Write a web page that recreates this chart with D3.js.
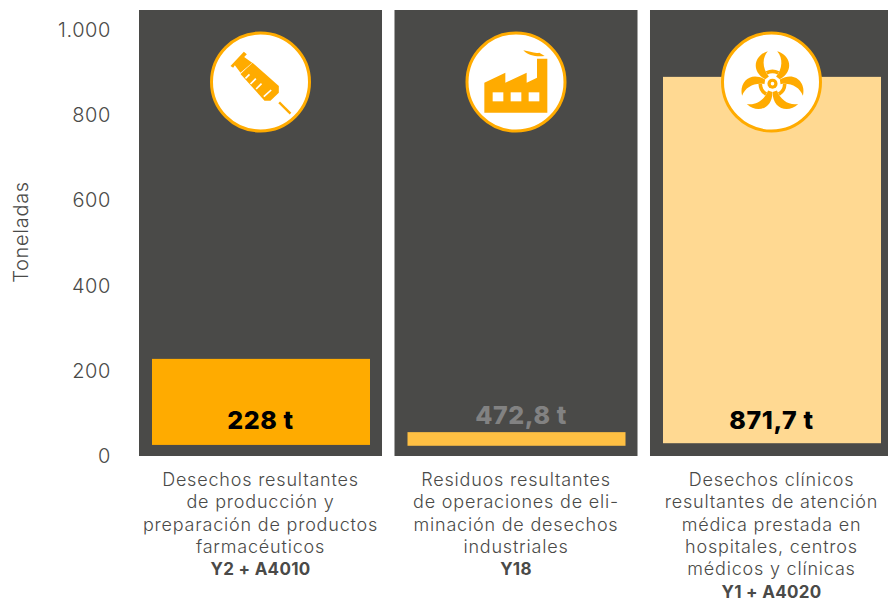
<!DOCTYPE html>
<html>
<head>
<meta charset="utf-8">
<script src="https://cdnjs.cloudflare.com/ajax/libs/d3/7.8.5/d3.min.js"></script>
<style>
body { margin: 0; background: #fff; }
svg text { font-family: "Inter", "Open Sans", sans-serif; }
</style>
</head>
<body>
<svg id="chart" width="888" height="601"></svg>
<script>
var categories = ["a", "b", "c"];
// bars do not start at zero in the picture, they float a bit above the panel bottom
var barValues = [228, 56, 890];
var barFloors = [26, 24, 30];
var barLabels = ["228 t", "472,8 t", "871,7 t"];
var barColors = ["#ffab00", "#ffc043", "#ffd992"];
var labelColors = ["#000000", "#828282", "#000000"];
var tickValues = [0, 200, 400, 600, 800, 1000];
var tickLabels = ["0", "200", "400", "600", "800", "1.000"];
var descriptions = [
    ["Desechos resultantes", "de producción y", "preparación de productos", "farmacéuticos"],
    ["Residuos resultantes", "de operaciones de eli-", "minación de desechos", "industriales"],
    ["Desechos clínicos", "resultantes de atención", "médica prestada en", "hospitales, centros", "médicos y clínicas"]
];
var codes = ["Y2 + A4010", "Y18", "Y1 + A4020"];

var svg = d3.select("#chart");
var y = d3.scaleLinear().domain([0, 1000]).range([456, 30]);
var x = d3.scaleBand().domain(categories).range([139, 893]).paddingInner(0.0489).paddingOuter(0);
var orange = "#ffab00";
var gray = "#4a4a48";

svg.selectAll(".panel").data(categories).enter().append("rect")
    .attr("x", d => x(d)).attr("y", 10)
    .attr("width", x.bandwidth()).attr("height", y(0) - 10)
    .attr("fill", gray);

svg.selectAll(".bar").data(categories).enter().append("rect")
    .attr("x", d => x(d) + 13)
    .attr("y", (d, i) => y(barValues[i]))
    .attr("width", x.bandwidth() - 25)
    .attr("height", (d, i) => y(barFloors[i]) - y(barValues[i]))
    .attr("fill", (d, i) => barColors[i]);

// the middle label sits above its thin bar and a little off centre
svg.selectAll(".val").data(categories).enter().append("text")
    .attr("x", (d, i) => x(d) + x.bandwidth() / 2 + (i == 1 ? 5 : 0))
    .attr("y", (d, i) => i == 1 ? 424 : 429)
    .attr("text-anchor", "middle").attr("font-size", 25).attr("font-weight", 800)
    .attr("letter-spacing", 0.6)
    .attr("fill", (d, i) => labelColors[i])
    .text((d, i) => barLabels[i]);

svg.selectAll(".tick").data(tickValues).enter().append("text")
    .attr("x", 111).attr("y", d => y(d) + 7)
    .attr("text-anchor", "end").attr("font-size", 20).attr("font-weight", 300)
    .attr("letter-spacing", 0.6).attr("fill", gray)
    .text((d, i) => tickLabels[i]);

svg.append("text").attr("transform", "translate(28,232) rotate(-90)")
    .attr("text-anchor", "middle").attr("font-size", 20).attr("font-weight", 300)
    .attr("letter-spacing", 0.7).attr("fill", gray).text("Toneladas");

categories.forEach(function(c, i) {
    var cx = x(c) + x.bandwidth() / 2;
    descriptions[i].forEach(function(line, j) {
        svg.append("text").attr("x", cx).attr("y", 486 + j * 22.3)
            .attr("text-anchor", "middle").attr("font-size", 18).attr("font-weight", 300)
            .attr("letter-spacing", 0.8).attr("fill", gray).text(line);
    });
    svg.append("text").attr("x", cx).attr("y", 486 + descriptions[i].length * 22.3)
        .attr("text-anchor", "middle").attr("font-size", 17).attr("font-weight", 700)
        .attr("letter-spacing", 0.3).attr("fill", gray).text(codes[i]);
    svg.append("circle").attr("cx", cx).attr("cy", 82).attr("r", 49)
        .attr("fill", "#fff").attr("stroke", orange).attr("stroke-width", 3);
});

// icons, drawn at 3x and scaled down
function icon(i) {
    return svg.append("g")
        .attr("transform", "translate(" + (x(categories[i]) + x.bandwidth() / 2) + ",82) scale(0.3333)");
}

var syringe = icon(0);
syringe.append("path").attr("fill", orange)
    .attr("d", "M-90,-48 L-50,-91 L-41,-83 L-49,-75 L-25,-58 L-60,-28 L-77,-50 L-82,-43 Z");
syringe.append("path").attr("fill", orange)
    .attr("d", "M-60,-24 L-24,-58 L55,12 L55,32 L30,56 L12,56 Z");
[[-45, -11, -33, -23], [-30, 6, -14, -10], [-13, 21, 3, 5], [10, 44, 32, 24]].forEach(function(t) {
    syringe.append("line").attr("x1", t[0]).attr("y1", t[1]).attr("x2", t[2]).attr("y2", t[3])
        .attr("stroke", "#fff").attr("stroke-width", 5);
});
syringe.append("line").attr("x1", 56).attr("y1", 61).attr("x2", 90).attr("y2", 95)
    .attr("stroke", orange).attr("stroke-width", 7);

var factory = icon(1);
factory.append("path").attr("fill", orange)
    .attr("d", "M-95,2 L-32,-28 L-32,2 L32,-28 L32,2 L63,-13 L63,-70 L94,-70 L94,92 L-95,92 Z");
[-70, -16, 38].forEach(function(wx) {
    factory.append("rect").attr("x", wx).attr("y", 31).attr("width", 32).attr("height", 27).attr("fill", "#fff");
});
factory.append("path").attr("fill", orange)
    .attr("d", "M22,-95 C40,-92 55,-85 70,-88 L86,-78 C65,-76 40,-76 22,-95 Z");

var bio = icon(2).append("g").attr("transform", "translate(3,5) scale(1.08)");
var ringArc = d3.arc().innerRadius(29).outerRadius(39).startAngle(-0.5).endAngle(0.5);
[0, 120, 240].forEach(function(a) {
    var g = bio.append("g").attr("transform", "rotate(" + a + ")");
    g.append("path").attr("fill", orange)
        .attr("d", "M-13,-90 C-50,-80 -62,-35 -20,-12 L-10,-20 C-28,-42 -30,-70 -13,-90 Z");
    g.append("path").attr("fill", orange)
        .attr("d", "M13,-90 C50,-80 62,-35 20,-12 L10,-20 C28,-42 30,-70 13,-90 Z");
    g.append("path").attr("fill", orange).attr("d", ringArc());
});
bio.append("circle").attr("r", 14).attr("fill", orange);
bio.append("circle").attr("r", 5).attr("fill", "#fff");
</script>
</body>
</html>
